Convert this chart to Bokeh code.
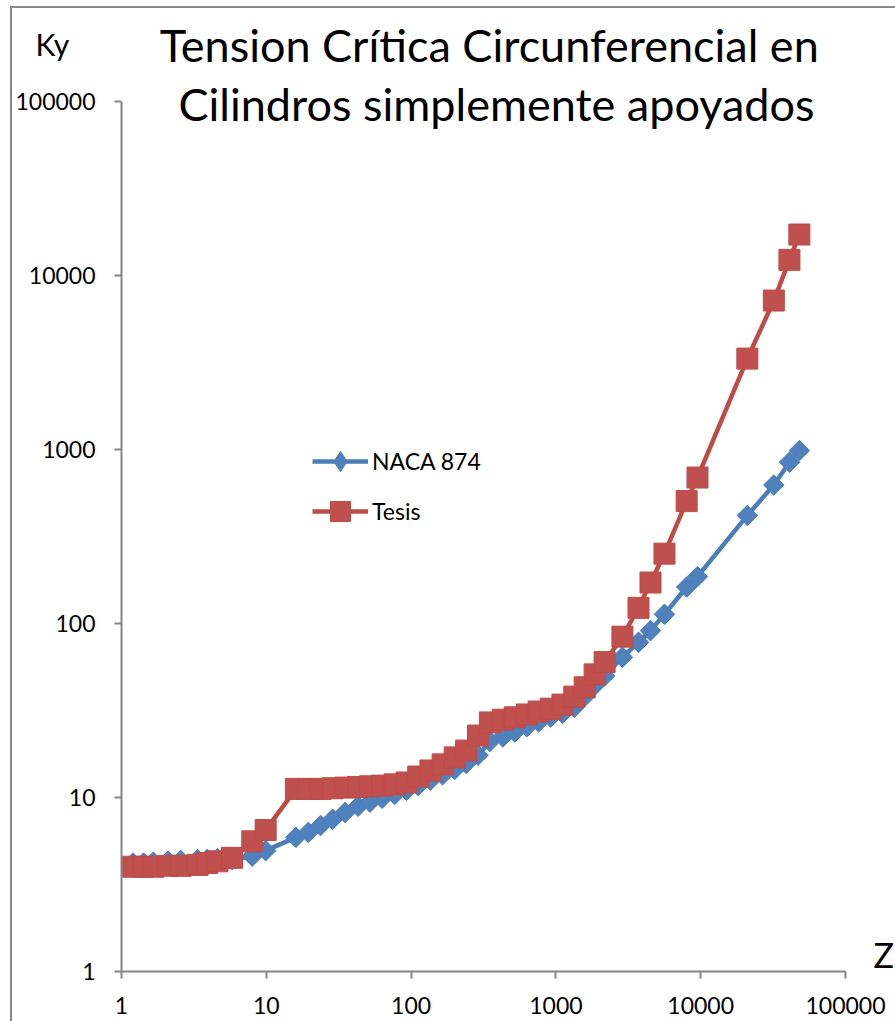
import math
from bokeh.plotting import figure
from bokeh.models import Range1d, FixedTicker, Label, Legend, LegendItem
from bokeh.embed import file_html
from bokeh.resources import INLINE

# ---- data ----
z = [1.2, 1.42, 1.66, 2.1, 2.56, 3.35, 3.9, 4.6, 5.8, 8.0, 9.9,
     16, 19.5, 23.7, 28.7, 35, 43, 52, 63, 77, 93,
     112, 136, 165, 200, 240, 290, 350, 430, 520, 630,
     760, 920, 1110, 1340, 1580, 1850, 2170,
     2880, 3720, 4500, 5620, 8000, 9500, 21000, 32000, 41000, 48000]

naca_874 = [4.2, 4.2, 4.25, 4.3, 4.35, 4.4, 4.4, 4.45, 4.4, 4.6, 4.95,
            5.9, 6.3, 6.9, 7.5, 8.2, 8.9, 9.4, 9.9, 10.4, 11.0,
            11.7, 12.6, 13.5, 14.5, 15.7, 17.5, 21.0, 22.3, 23.8, 25.5,
            27.2, 29, 30.5, 33, 38, 44, 50,
            64, 78, 91, 113, 162, 186, 418, 625, 845, 985]

tesis = [4.0, 4.0, 4.0, 4.05, 4.05, 4.1, 4.2, 4.3, 4.5, 5.6, 6.5,
         11.2, 11.2, 11.2, 11.3, 11.4, 11.5, 11.6, 11.7, 11.9, 12.2,
         13.2, 14.3, 15.5, 17.0, 18.6, 22.7, 27.0, 28.0, 28.9, 30.0,
         31.2, 32.4, 34.2, 38, 43, 51, 60,
         84, 123, 172, 252, 505, 690, 3330, 7180, 12300, 17200]

ticks = [1, 10, 100, 1000, 10000, 100000]
tick_labels = ["1", "10", "100", "1000", "10000", "100000"]
title_lines = ["Tension  Crítica Circunferencial en", "Cilindros simplemente apoyados"]
y_name = "Ky"
x_name = "Z"
series_names = ["NACA 874", "Tesis"]

# ---- layout (pixels) ----
W, H = 895, 1021
AX_LEFT, AX_RIGHT = 121, 845      # pixel span of 1 .. 1e5 on x
AX_BOTTOM, AX_TOP = 971, 101      # pixel span of 1 .. 1e5 on y
dec_x = (AX_RIGHT - AX_LEFT) / 5.0
dec_y = (AX_BOTTOM - AX_TOP) / 5.0
x_start = 10 ** (-AX_LEFT / dec_x)
x_end = 10 ** ((W - AX_LEFT) / dec_x)
y_start = 10 ** (-(H - AX_BOTTOM) / dec_y)
y_end = 10 ** (AX_BOTTOM / dec_y)

FONT = "Lato"
AXIS_GRAY = "#868686"

p = figure(width=W, height=H, min_border=0,
           x_axis_type="log", y_axis_type="log",
           x_range=Range1d(x_start, x_end), y_range=Range1d(y_start, y_end),
           output_backend="svg", toolbar_location=None)

p.border_fill_color = None
p.background_fill_color = None
p.outline_line_color = None
p.grid.visible = False
p.styles = {
    "background-color": "white",
    "background-image": "linear-gradient(#898989, #898989), linear-gradient(#898989, #898989)",
    "background-size": "2px 100%, 100% 2px",
    "background-position": "10px 6px, 10px 6px",
    "background-repeat": "no-repeat",
}

for ax in (p.xaxis[0], p.yaxis[0]):
    ax.fixed_location = 1
    ax.bounds = (1, 100000)
    ax.ticker = FixedTicker(ticks=ticks)
    ax.major_label_overrides = {t: l for t, l in zip(ticks, tick_labels)}
    ax.axis_line_color = AXIS_GRAY
    ax.axis_line_width = 2
    ax.major_tick_line_color = AXIS_GRAY
    ax.major_tick_line_width = 2
    ax.major_tick_out = 7
    ax.major_tick_in = 0
    ax.minor_tick_line_color = None
    ax.major_label_text_font = FONT
    ax.major_label_text_font_size = "23px"
    ax.major_label_text_color = "black"
p.yaxis.major_label_standoff = 19
p.xaxis.major_label_standoff = 18

# series
r_bl = p.line(z, naca_874, line_width=4.5, color="#4A7EBB")
r_bm = p.scatter(z, naca_874, marker="square", angle=math.pi / 4, size=14.5,
                 fill_color="#4F81BD", line_color="#4A7EBB")
r_bk = p.scatter(z, naca_874, marker="diamond", size=20,
                 fill_color="#4F81BD", line_color="#4A7EBB", visible=False)
r_rl = p.line(z, tesis, line_width=4.5, color="#BE4B48")
r_rm = p.scatter(z, tesis, marker="square", size=21,
                 fill_color="#C0504D", line_color="#BE4B48")

lg = Legend(items=[LegendItem(label=series_names[0], renderers=[r_bl, r_bk]),
                   LegendItem(label=series_names[1], renderers=[r_rl, r_rm])],
            location=(312, 485), padding=0, margin=0, spacing=-6,
            glyph_width=56, glyph_height=50, label_height=20, label_standoff=4,
            border_line_color=None, background_fill_alpha=0,
            label_text_font=FONT, label_text_font_size="23px", label_text_color="black")
p.add_layout(lg)

# title and axis names (screen units; frame covers the whole canvas)
def add_text(text, x_px, y_px, size, align="left"):
    p.add_layout(Label(x=x_px, y=H - y_px, x_units="screen", y_units="screen", text=text,
                       text_align=align, text_baseline="alphabetic",
                       text_font=FONT, text_font_size=size, text_color="black"))

add_text(title_lines[0], 494.5, 44, "45px", "center")
add_text(title_lines[1], 496, 103, "45px", "center")
add_text(y_name, 35, 43, "30px")
add_text(x_name, 873, 954, "34px")

open("out.html", "w").write(file_html(p, INLINE))
